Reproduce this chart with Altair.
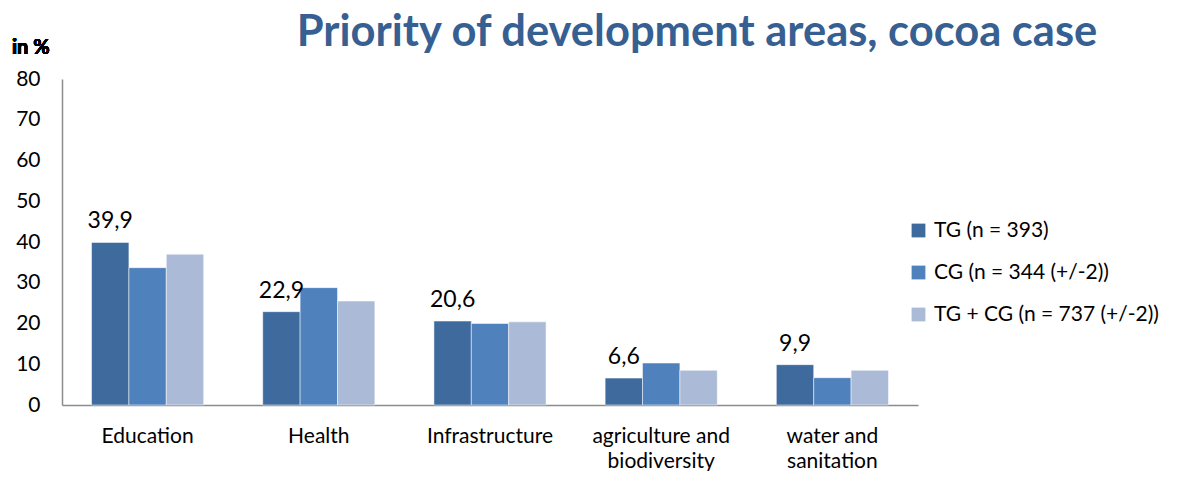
import altair as alt
import pandas as pd

categories = ["Education", "Health", "Infrastructure", "agriculture and\nbiodiversity", "water and\nsanitation"]
series = ["TG (n = 393)", "CG (n = 344 (+/-2))", "TG + CG (n = 737 (+/-2))"]
tg = [39.9, 22.9, 20.6, 6.6, 9.9]
cg = [33.7, 28.8, 20.0, 10.3, 6.7]
tgcg = [37.0, 25.5, 20.4, 8.5, 8.5]
colors = ["#3F6A9E", "#4F81BD", "#AABAD7"]
title_text = "Priority of development areas, cocoa case"

rows = []
for i, c in enumerate(categories):
    for s, vals in zip(series, [tg, cg, tgcg]):
        rows.append({"category": c, "series": s, "value": vals[i], "labeled": s == series[0]})
df = pd.DataFrame(rows)

FONT = "Lato"

x = alt.X("category:N", sort=categories, title=None,
          scale=alt.Scale(paddingInner=0.345, paddingOuter=0.1725),
          axis=alt.Axis(labelAngle=0, labelExpr="split(datum.label, '\\n')", labelFontSize=21,
                        labelColor="#000000", labelFont=FONT, labelPadding=20, ticks=False,
                        domainColor="#8C8C8C", domainWidth=1.5, labelLineHeight=25,
                        labelBaseline="top", labelLimit=0))
y = alt.Y("value:Q", title=None, scale=alt.Scale(domain=[0, 80]),
          axis=alt.Axis(values=list(range(0, 81, 10)), grid=False, ticks=False,
                        labelFontSize=21, labelColor="#000000", labelFont=FONT, labelPadding=22,
                        domainColor="#8C8C8C", domainWidth=1.5))

bars = alt.Chart(df).mark_bar(stroke="white", strokeWidth=0.5).encode(
    x=x, y=y,
    xOffset=alt.XOffset("series:N", sort=series),
    color=alt.Color("series:N", sort=series, scale=alt.Scale(domain=series, range=colors),
                    legend=alt.Legend(title=None, orient="none", legendX=846, legendY=141,
                                      symbolType="square", symbolSize=190, symbolStrokeWidth=0,
                                      labelFontSize=21, labelFont=FONT, labelColor="#000000",
                                      rowPadding=20, labelOffset=5, labelLimit=0)),
)

labels = alt.Chart(df).transform_filter("datum.labeled").transform_calculate(
    lab="replace(format(datum.value, '.1f'), '.', ',')"
).mark_text(dy=-9, baseline="bottom", fontSize=23, font=FONT, color="#000000").encode(
    x=alt.X("category:N", sort=categories),
    xOffset=alt.XOffset("series:N", sort=series),
    y="value:Q",
    text="lab:N",
)

unit = alt.Chart(df).mark_text(text="in %", fontSize=20, fontWeight="bold", font=FONT,
                               color="#000000", align="left", baseline="middle").encode(
    x=alt.value(-50), y=alt.value(-31)
)

title = alt.Chart(pd.DataFrame({"t": [title_text]})).mark_text(
    fontSize=43.5, fontWeight="bold", font=FONT, color="#376092", align="center",
    baseline="alphabetic").encode(
    text="t:N", x=alt.value(635), y=alt.value(-33)
)

chart = alt.layer(bars, labels, unit, title).properties(
    width=856, height=326,
    autosize=alt.AutoSizeParams(type="none"),
    padding={"left": 54, "top": 71, "right": 257, "bottom": 66},
).configure_view(stroke=None).configure_axisY(labelAlign="right")

chart.save("out.html", embed_options={"renderer": "svg", "actions": False})
